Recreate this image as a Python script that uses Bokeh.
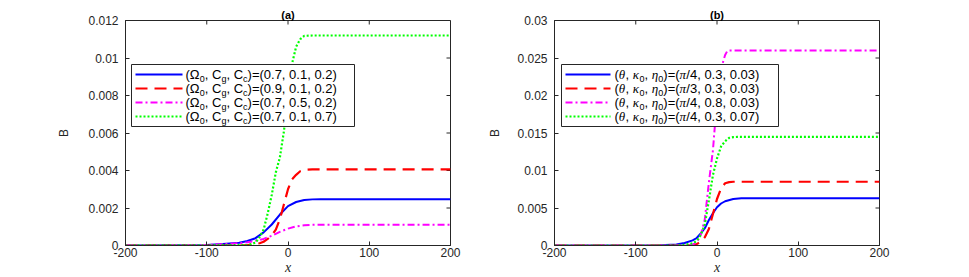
import math
from bokeh.plotting import figure
from bokeh.models import Range1d, FixedTicker, Label, BoxAnnotation
from bokeh.layouts import row
from bokeh.embed import file_html
from bokeh.resources import INLINE

# ---------------- panel (a) data ----------------
a_blue_x = [-200, -100, -80, -60, -50, -40, -30, -20, -10, 0, 10, 20, 30, 40, 200]
a_blue_y = [0, 0.00003, 0.00008, 0.00015, 0.00024, 0.00039, 0.0007, 0.00112, 0.00165, 0.0021,
            0.00232, 0.00243, 0.00246, 0.00247, 0.00247]
a_red_x = [-200, -60, -45, -35, -30, -25, -20, -15, -10, -5, 0, 5, 10, 15, 20, 30, 200]
a_red_y = [0, 0, 0.00003, 0.00012, 0.0002, 0.00035, 0.00055, 0.00085, 0.0014, 0.0022, 0.003,
           0.00353, 0.00377, 0.00396, 0.00403, 0.00406, 0.00406]
a_mag_x = [-200, -120, -100, -80, -60, -50, -40, -30, -20, -10, 0, 10, 20, 30, 45, 200]
a_mag_y = [0, 0.00001, 0.00003, 0.00007, 0.00012, 0.00017, 0.00025, 0.00035, 0.00052, 0.00073,
           0.0009, 0.00102, 0.00108, 0.0011, 0.00111, 0.00111]
a_grn_x = [-200, -50, -40, -35, -30, -25, -20, -15, -10, -5, 0, 5, 10, 15, 20, 30, 200]
a_grn_y = [0, 0.00002, 0.00015, 0.00045, 0.00085, 0.0017, 0.0027, 0.0039, 0.0047, 0.0061, 0.008,
           0.0097, 0.0106, 0.011, 0.01118, 0.0112, 0.0112]
a_params = ["(0.7, 0.1, 0.2)", "(0.9, 0.1, 0.2)", "(0.7, 0.5, 0.2)", "(0.7, 0.1, 0.7)"]

# ---------------- panel (b) data ----------------
b_blue_x = [-200, -100, -70, -50, -40, -30, -25, -20, -15, -10, -5, 0, 5, 10, 20, 30, 40, 200]
b_blue_y = [0, 0, 0.00003, 0.00014, 0.00033, 0.00068, 0.001, 0.0016, 0.0023, 0.0034, 0.0043,
            0.0051, 0.0056, 0.0059, 0.0062, 0.0063, 0.0063, 0.0063]
b_red_x = [-200, -40, -30, -25, -20, -15, -10, -5, 0, 5, 10, 15, 20, 200]
b_red_y = [0, 0, 0.00006, 0.00018, 0.0005, 0.0011, 0.0022, 0.0042, 0.0062, 0.0076, 0.0083,
           0.00845, 0.0085, 0.0085]
b_mag_x = [-200, -35, -30, -25, -20, -15, -10, -5, -2.5, 0, 2.5, 5, 7.5, 10, 12.5, 15, 200]
b_mag_y = [0, 0, 0.00015, 0.0004, 0.0014, 0.0035, 0.0084, 0.0127, 0.0161, 0.0182, 0.0203,
           0.0225, 0.0245, 0.0254, 0.0259, 0.026, 0.026]
b_grn_x = [-200, -50, -40, -30, -25, -20, -15, -10, -5, 0, 5, 10, 15, 20, 25, 200]
b_grn_y = [0, 0, 0.00008, 0.0003, 0.0006, 0.0014, 0.0028, 0.006, 0.0094, 0.0116, 0.0132,
           0.0139, 0.01435, 0.01445, 0.01448, 0.01448]
b_params = [("π", "/4, 0.3, 0.03)"), ("π", "/3, 0.3, 0.03)"),
            ("π", "/4, 0.8, 0.03)"), ("π", "/4, 0.3, 0.07)")]

# ---------------- ticks ----------------
x_ticks = [-200, -100, 0, 100, 200]
x_tick_labels = ["-200", "-100", "0", "100", "200"]
a_y_ticks = [0, 0.002, 0.004, 0.006, 0.008, 0.01, 0.012]
a_y_tick_labels = ["0", "0.002", "0.004", "0.006", "0.008", "0.01", "0.012"]
b_y_ticks = [0, 0.005, 0.01, 0.015, 0.02, 0.025, 0.03]
b_y_tick_labels = ["0", "0.005", "0.01", "0.015", "0.02", "0.025", "0.03"]

AX = "#262626"
FONT = "Liberation Sans"
FW, FH = 325, 225
XMIN, XMAX = -200, 200
LEG_TOP = 44
ROW = 14
PAD = 3
STYLES = [("#0000ff", "solid", 2), ("#ff0000", "12 7", 2.2),
          ("#ff00ff", "7 3 2 3", 2), ("#00ff00", "2 2", 2.2)]

SANS_W = {'(': .333, ')': .333, ',': .278, ' ': .278, '.': .278, '/': .278, '=': .584,
          'C': .722, 'g': .556, 'c': .5, 'Ω': .768}
SERIF_I_W = {'θ': .52, 'κ': .52, 'η': .5, 'π': .52}


def text_width(txt, kind, size):
    if kind == "gi":
        return sum(SERIF_I_W.get(ch, .5) for ch in txt) * size
    return sum(SANS_W.get(ch, .556) for ch in txt) * size


def make_fig(title, ymax, yticks, ylabels, bl, br, ylab_standoff):
    p = figure(frame_width=FW, frame_height=FH, x_range=Range1d(XMIN, XMAX),
               y_range=Range1d(0, ymax),
               output_backend="svg", toolbar_location=None,
               min_border_left=bl, min_border_right=br, min_border_top=20, min_border_bottom=32)
    p.title.text = title
    p.title.align = "center"
    p.title.text_font = FONT
    p.title.text_font_size = "11px"
    p.title.text_font_style = "bold"
    p.title.text_color = "#000000"
    p.title.standoff = 0
    p.grid.visible = False
    p.outline_line_color = AX
    p.outline_line_alpha = 1
    for ax in (p.xaxis[0], p.yaxis[0]):
        ax.major_tick_in = 4
        ax.major_tick_out = 0
        ax.minor_tick_line_color = None
        ax.axis_line_color = AX
        ax.major_tick_line_color = AX
        ax.major_label_text_font = FONT
        ax.major_label_text_font_size = "12px"
        ax.major_label_text_color = AX
        ax.axis_label_text_color = AX
    p.xaxis.ticker = FixedTicker(ticks=x_ticks)
    p.xaxis.major_label_overrides = dict(zip(x_ticks, x_tick_labels))
    p.xaxis.major_label_standoff = 2
    p.xaxis.axis_label = "x"
    p.xaxis.axis_label_text_font = "Liberation Serif"
    p.xaxis.axis_label_text_font_style = "italic"
    p.xaxis.axis_label_text_font_size = "14px"
    p.xaxis.axis_label_standoff = 0
    p.yaxis.ticker = FixedTicker(ticks=yticks)
    p.yaxis.major_label_overrides = dict(zip(yticks, ylabels))
    p.yaxis.major_label_standoff = 7
    p.yaxis.axis_label = "B"
    p.yaxis.axis_label_text_font = FONT
    p.yaxis.axis_label_text_font_style = "normal"
    p.yaxis.axis_label_text_font_size = "12px"
    p.yaxis.axis_label_standoff = ylab_standoff
    # mirrored inward ticks on the top and right edges of the box
    p.ray(x=x_ticks, y=[ymax] * len(x_ticks), length=4, length_units="screen",
          angle=-math.pi / 2, line_color=AX, line_width=1)
    p.ray(x=[XMAX] * len(yticks), y=yticks, length=4, length_units="screen",
          angle=math.pi, line_color=AX, line_width=1)
    return p


def draw_lines(p, series):
    for (xs, ys), (color, dash, w) in zip(series, STYLES):
        p.line(xs, ys, line_color=color, line_dash=dash, line_width=w)


def add_legend(p, ymax, rows, lx, box_w, glyph_w, text_x, size, sub):
    def dx(sx):
        return XMIN + sx * (XMAX - XMIN) / FW

    def dy(sy):
        return sy * ymax / FH

    leg_h = 2 * PAD + ROW * len(rows)
    top_px = FH - LEG_TOP
    p.add_layout(BoxAnnotation(left=dx(lx), right=dx(lx + box_w), top=dy(top_px),
                               bottom=dy(top_px - leg_h), fill_color="white", fill_alpha=1,
                               line_color=AX, line_width=1, line_alpha=1))
    for i, pieces in enumerate(rows):
        yc = top_px - PAD - ROW * i - ROW / 2
        color, dash, w = STYLES[i]
        # legend sample line, length in screen pixels
        p.ray(x=[dx(lx + 4)], y=[dy(yc)], length=glyph_w, length_units="screen", angle=0,
              line_color=color, line_dash=dash, line_width=w, level="overlay")
        x = text_x
        for txt, kind in pieces:
            if kind == "s":
                fs, font, st, yo = sub, FONT, "normal", -4
            elif kind == "gi":
                fs, font, st, yo = size, "Liberation Serif", "italic", 0
            else:
                fs, font, st, yo = size, FONT, "normal", 0
            p.add_layout(Label(x=dx(x), y=dy(yc), text=txt,
                               text_font=font, text_font_size=f"{fs}px", text_font_style=st,
                               text_baseline="middle", text_align="left", y_offset=yo,
                               text_color="#000000"))
            x += text_width(txt, kind, fs)


# ---------------- panel (a) ----------------
pa = make_fig("(a)", 0.012, a_y_ticks, a_y_tick_labels, 125, 35, 14)
draw_lines(pa, [(a_blue_x, a_blue_y), (a_red_x, a_red_y), (a_mag_x, a_mag_y), (a_grn_x, a_grn_y)])
rows_a = [[("(Ω", "n"), ("0", "s"), (", C", "n"), ("g", "s"), (", C", "n"), ("c", "s"),
           (")=" + prm, "n")] for prm in a_params]
add_legend(pa, 0.012, rows_a, 6, 223, 47, 60, 13, 9)

# ---------------- panel (b) ----------------
pb = make_fig("(b)", 0.03, b_y_ticks, b_y_tick_labels, 67, 40, 12)
draw_lines(pb, [(b_blue_x, b_blue_y), (b_red_x, b_red_y), (b_mag_x, b_mag_y), (b_grn_x, b_grn_y)])
rows_b = [[("(", "n"), ("θ", "gi"), (", ", "n"), ("κ", "gi"), ("0", "s"), (", ", "n"),
           ("η", "gi"), ("0", "s"), (")=(", "n"), (pi, "gi"), (rest, "n")] for pi, rest in b_params]
add_legend(pb, 0.03, rows_b, 7, 217, 45, 60, 13, 9)

layout = row(pa, pb)
open("out.html", "w").write(file_html(layout, INLINE))
